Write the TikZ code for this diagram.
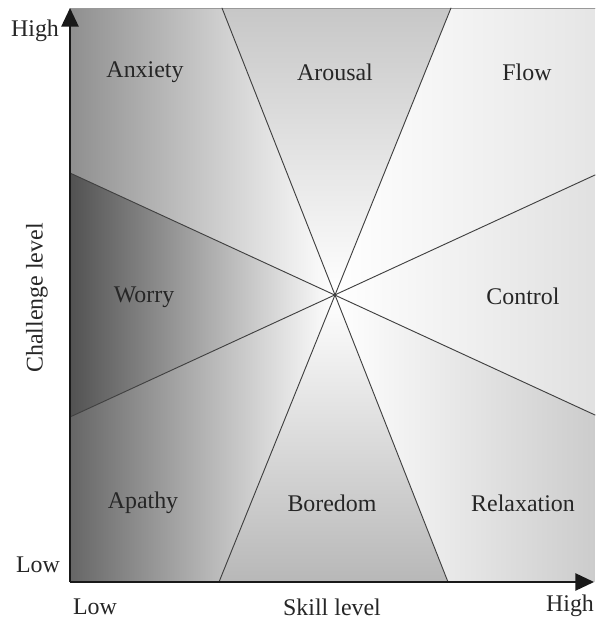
\documentclass[tikz,border=0pt]{standalone}
\usepackage{fontspec}
\setmainfont{Liberation Serif}
\usepackage{tikz}
\usepackage{tkz-euclide}
\usetikzlibrary{arrows.meta}

\begin{document}
\begin{tikzpicture}[scale=0.2646,
    lab/.style={font=\fontsize{18}{21}\selectfont, text=black!85},
    divider/.style={color=black!75, line width=0.7pt},
    axis/.style={-{Triangle[length=14pt,width=13pt]}, line width=1.2pt, black!90}]
    \useasboundingbox (0,0) rectangle (59.5,62.1);

    \tkzDefPoint(7,3.9){O}
    \tkzDefPoint(7,61.3){Ya}
    \tkzDefPoint(59.4,3.9){Xa}
    \tkzDefPoint(59.5,61.3){NE}
    \tkzDefPoint(59.5,3.9){SE}
    \tkzDefPoint(33.5,32.6){C}

    \tkzDefPoint(22.2,61.3){TL}
    \tkzDefPoint(45.1,61.3){TR}
    \tkzDefPoint(21.9,3.9){BL}
    \tkzDefPoint(44.8,3.9){BR}
    \tkzDefPoint(7,44.8){LU}
    \tkzDefPoint(7,20.4){LD}
    \tkzDefPoint(59.5,44.6){RU}
    \tkzDefPoint(59.5,20.6){RD}

    % shaded regions
    \path[left color=black!44, right color=white] (Ya) -- (TL) -- (C) -- (LU) -- cycle;
    \path[left color=black!68, right color=white] (LU) -- (C) -- (LD) -- cycle;
    \path[left color=black!60, right color=white] (O) -- (BL) -- (C) -- (LD) -- cycle;
    \path[top color=black!22, bottom color=white] (TL) -- (TR) -- (C) -- cycle;
    \path[bottom color=black!28, top color=white] (BL) -- (BR) -- (C) -- cycle;
    \path[left color=white, right color=black!10] (TR) -- (NE) -- (RU) -- (C) -- cycle;
    \path[left color=white, right color=black!12] (RU) -- (RD) -- (C) -- cycle;
    \path[left color=white, right color=black!20] (RD) -- (SE) -- (BR) -- (C) -- cycle;

    \tkzDrawSegment[color=black!40, line width=0.5pt](Ya,NE)
    \tkzDrawSegments[divider](TL,BR TR,BL LU,RD LD,RU)

    \draw[axis] (O) -- (Ya);
    \draw[axis] (O) -- (Xa);

    \node[lab] (anx) at (14.5,54.9){Anxiety};
    \node[lab] (aro) at (33.5,54.9){Arousal};
    \node[lab] (flo) at (52.7,54.9){Flow};
    \node[lab] (wor) at (14.4,32.4){Worry};
    \node[lab] (con) at (52.3,32.5){Control};
    \node[lab] (apa) at (14.3,11.8){Apathy};
    \node[lab] (bor) at (33.2,11.8){Boredom};
    \node[lab] (rel) at (52.3,11.8){Relaxation};

    \node[lab] (yhigh) at (3.5,59.0){High};
    \node[lab] (ylow) at (3.8,5.6){Low};
    \node[lab, rotate=90] (ylab) at (3.7,32.3){Challenge level};
    \node[lab] (xlow) at (9.5,1.4){Low};
    \node[lab] (xlab) at (33.2,1.4){Skill level};
    \node[lab] (xhigh) at (57.0,1.5){High};
    %\node[lab] (orig) at (7,3.9){};
\end{tikzpicture}
\end{document}
